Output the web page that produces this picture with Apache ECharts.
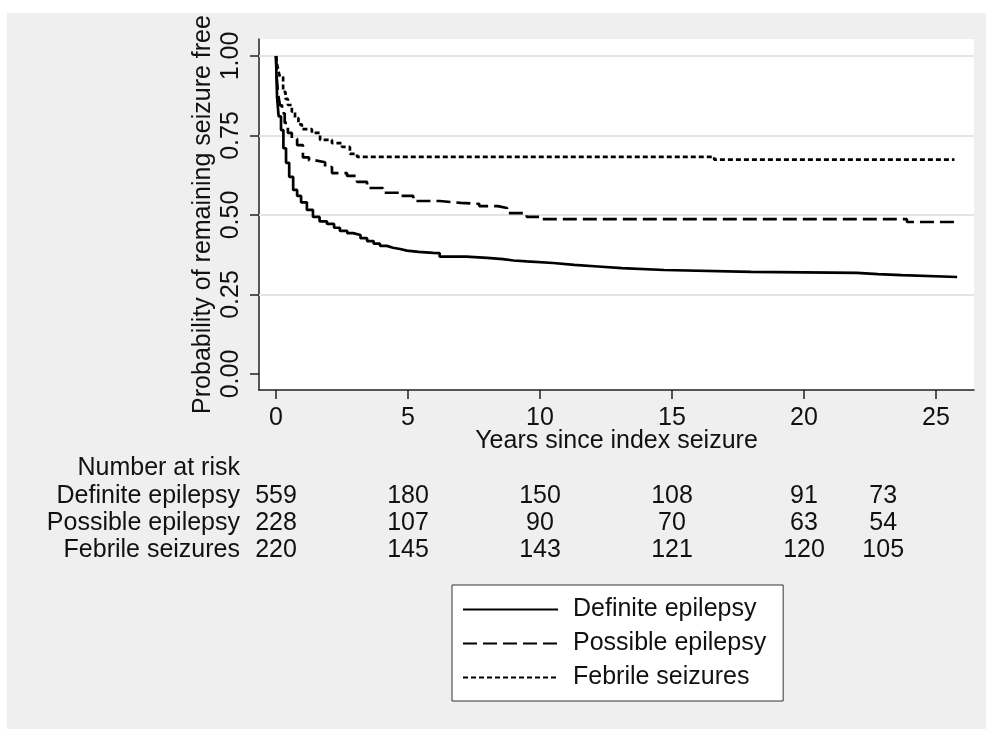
<!DOCTYPE html>
<html><head><meta charset="utf-8">
<script src="https://cdn.jsdelivr.net/npm/echarts@6/dist/echarts.min.js"></script>
<style>
html,body{margin:0;padding:0;background:#fff;width:986px;height:729px;overflow:hidden;}
#bg{position:absolute;left:7px;top:13px;right:0;bottom:0;background:#efefef;}
#chart{position:absolute;left:0;top:0;width:986px;height:729px;}
</style></head><body>
<div id="bg"></div><div id="chart"></div>
<script>
const xTicks = [0, 5, 10, 15, 20, 25];
const yTicks = [0, 0.25, 0.5, 0.75, 1];
const gridValues = [0.25, 0.5, 0.75, 1];
const seriesNames = ['Definite epilepsy', 'Possible epilepsy', 'Febrile seizures'];

const definiteData = [[0,1],[0.02,0.93],[0.04,0.87],[0.1,0.81],[0.19,0.767],[0.28,0.71],[0.38,0.664],[0.5,0.62],[0.65,0.579],[0.8,0.56],[0.95,0.54],[1.17,0.516],[1.4,0.494],[1.65,0.48],[1.93,0.472],[2.2,0.46],[2.42,0.45],[2.7,0.443],[2.92,0.437],[3.2,0.427],[3.45,0.418],[3.7,0.41],[3.94,0.403],[4.2,0.397],[4.43,0.393],[4.7,0.388],[4.96,0.384],[5.4,0.381],[5.95,0.38],[6.2,0.369],[7.2,0.365],[8.0,0.361],[8.6,0.357],[9.0,0.354],[9.5,0.349],[10.5,0.343],[11.3,0.338],[12.2,0.333],[13.1,0.327],[14.7,0.321],[18.0,0.318],[22.0,0.314],[22.8,0.311],[23.7,0.305],[25.8,0.305]];
const possibleData = [[0,1],[0.03,0.93],[0.08,0.88],[0.15,0.845],[0.23,0.82],[0.33,0.79],[0.45,0.758],[0.6,0.74],[0.8,0.72],[1.02,0.681],[1.25,0.672],[1.48,0.666],[1.86,0.651],[2.12,0.632],[2.69,0.623],[3.07,0.604],[3.45,0.585],[4.05,0.57],[4.7,0.56],[5.2,0.544],[6.2,0.538],[7.0,0.535],[7.7,0.528],[8.4,0.522],[8.75,0.506],[9.5,0.494],[10.1,0.487],[23.9,0.478],[25.8,0.478]];
const febrileData = [[0,1],[0.05,0.97],[0.1,0.95],[0.15,0.934],[0.27,0.887],[0.36,0.865],[0.45,0.846],[0.6,0.825],[0.72,0.805],[0.85,0.785],[0.98,0.77],[1.36,0.758],[1.67,0.736],[2.12,0.726],[2.5,0.714],[2.8,0.692],[3.07,0.683],[16.6,0.674],[25.7,0.674]];

const riskTitle = 'Number at risk';
const riskTimes = [0, 5, 10, 15, 20, 23];
const definiteRisk = [559, 180, 150, 108, 91, 73];
const possibleRisk = [228, 107, 90, 70, 63, 54];
const febrileRisk = [220, 145, 143, 121, 120, 105];

const FONT = '"Liberation Sans", Arial, Helvetica, sans-serif';
const FS = 25;
const TXT = '#111';
const AX = '#222';

const chart = echarts.init(document.getElementById('chart'), null, {renderer: 'canvas'});

const lineStyles = [
  {color: '#000', width: 2.7, type: 'solid'},
  {color: '#000', width: 2.7, type: [14, 6]},
  {color: '#000', width: 2.7, type: [5, 3]}
];
const dataSets = [definiteData, possibleData, febrileData];

const option = {
  animation: false,
  textStyle: {fontFamily: FONT},
  grid: {left: 259, top: 39, right: 12, bottom: 339, show: true, backgroundColor: '#fff', borderWidth: 0, containLabel: false},
  xAxis: {
    type: 'value', min: -0.644, max: 26.44,
    axisLine: {show: true, onZero: false, lineStyle: {color: AX, width: 1.5}},
    axisTick: {show: true, customValues: xTicks, length: 9, lineStyle: {color: AX, width: 1.5}},
    axisLabel: {customValues: xTicks, margin: 16, fontSize: FS, color: TXT, fontFamily: FONT},
    splitLine: {show: false},
    name: 'Years since index seizure', nameLocation: 'middle', nameGap: 39, nameMoveOverlap: false,
    nameTextStyle: {fontSize: FS, color: TXT, fontFamily: FONT}
  },
  yAxis: {
    type: 'value', min: -0.0503, max: 1.0535,
    axisLine: {show: true, onZero: false, lineStyle: {color: AX, width: 1.5}},
    axisTick: {show: true, customValues: yTicks, length: 9, lineStyle: {color: AX, width: 1.5}},
    axisLabel: {customValues: yTicks, rotate: 90, margin: 15, fontSize: FS, color: TXT, fontFamily: FONT,
      formatter: v => Number(v).toFixed(2)},
    splitLine: {show: false},
    name: 'Probability of remaining seizure free', nameLocation: 'middle', nameGap: 43, nameMoveOverlap: false,
    nameTextStyle: {fontSize: FS, color: TXT, fontFamily: FONT}
  },
  legend: {
    orient: 'vertical', left: 452, top: 585,
    itemWidth: 95, itemHeight: 14, itemGap: 9,
    padding: [12, 17, 11, 10],
    backgroundColor: '#fff', borderColor: '#333', borderWidth: 1, borderRadius: 0,
    selectedMode: false,
    itemStyle: {opacity: 0},
    lineStyle: {width: 2},
    textStyle: {fontSize: FS, color: TXT, fontFamily: FONT, padding: [0, 0, 0, 10], lineHeight: 25},
    data: seriesNames
  },
  series: [
    {
      type: 'line', data: [], silent: true, z: 1,
      markLine: {
        silent: true, z: 1, symbol: ['none', 'none'], animation: false,
        label: {show: false},
        lineStyle: {color: '#e4e4e4', width: 2, type: 'solid'},
        emphasis: {disabled: true},
        data: gridValues.map(v => ({yAxis: v}))
      }
    }
  ].concat(seriesNames.map((n, i) => ({
    type: 'line', name: n, data: dataSets[i], step: 'end', symbol: 'none', showSymbol: false,
    z: 3, silent: true,
    lineStyle: lineStyles[i], itemStyle: {color: '#000'},
    emphasis: {disabled: true}
  })))
};
chart.setOption(option);

const rowNames = [riskTitle].concat(seriesNames);
const rowValues = [null, definiteRisk, possibleRisk, febrileRisk];
const rowY = [468, 496, 523, 550];
const labelRight = 240;
const xs = riskTimes.map(t => chart.convertToPixel({xAxisIndex: 0}, t));
const font = FS + 'px ' + FONT;
const els = [];
rowNames.forEach((name, r) => {
  els.push({type: 'text', silent: true, style: {text: name, x: labelRight, y: rowY[r], font: font, fill: TXT,
    textAlign: 'right', textVerticalAlign: 'middle', align: 'right', verticalAlign: 'middle'}});
  if (rowValues[r]) {
    rowValues[r].forEach((v, k) => {
      els.push({type: 'text', silent: true, style: {text: String(v), x: xs[k], y: rowY[r], font: font, fill: TXT,
        textAlign: 'center', textVerticalAlign: 'middle', align: 'center', verticalAlign: 'middle'}});
    });
  }
});
chart.setOption({graphic: {elements: els}});
</script>
</body></html>
